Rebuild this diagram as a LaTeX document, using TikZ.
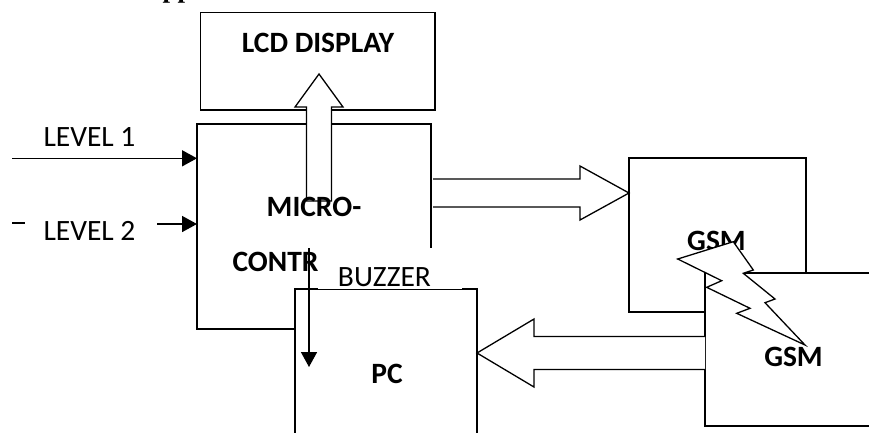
\documentclass[tikz,border=0pt]{standalone}
\usepackage{fontspec}
\setmainfont{Carlito}
\newfontfamily\headfont{Liberation Serif}
\usetikzlibrary{arrows.meta}

\tikzset{
  blk/.style={draw, line width=1.3pt, fill=white, inner sep=0pt, outer sep=0pt},
  btxt/.style={font=\fontsize{29.5}{34}\selectfont\bfseries, inner sep=0pt},
  txt/.style={font=\fontsize{29.5}{34}\selectfont, inner sep=0pt},
  fat/.style={draw, line width=1.3pt, fill=white, line join=miter},
  sigarr/.style={-{Triangle[length=15pt,width=16pt]}, line width=1.6pt},
}

\begin{document}
\begin{tikzpicture}[x=1pt,y=-1pt]
			\useasboundingbox (0,0) rectangle (869,432);
			% heading, cut off at the top
			\node[anchor=base west, inner sep=0pt, font=\headfont\fontsize{27}{30}\selectfont\bfseries] (title) at (143,-3) {Application};
			% blocks
			\node[blk, minimum width=234pt, minimum height=205pt] (micro) at (314,226.5) {};
			\node[blk, minimum width=234.5pt, minimum height=97.3pt] (lcd) at (317.75,61.35) {};
			\node[blk, minimum width=182pt, minimum height=181pt] (pc) at (386,379.5) {};
			\node[fill=white, inner sep=0pt, minimum width=144pt, minimum height=41pt] (buzzbg) at (390,268.5) {};
			\node[blk, minimum width=177pt, minimum height=154pt] (gsma) at (717.5,235) {};
			\node[btxt] (gsmatext) at (716.5,241) {GSM};
			\node[blk, minimum width=215pt, minimum height=153pt] (gsmb) at (812.5,349.5) {};
			% radio link
			\draw[fat] (677.7,259) -- (733.3,241.7) -- (753.3,270) -- (743.3,273.3) -- (775,299) -- (765,302.7)
				-- (805,345) -- (736.7,313.3) -- (750,308.3) -- (706.7,287.3) -- (721.7,280.7) -- cycle;
			% wide arrows
			\draw[fat] (306.5,201) -- (306.5,107) -- (295,107) -- (319,74) -- (343,107) -- (331.5,107) -- (331.5,201) -- cycle;
			\draw[fat] (433,179) -- (580,179) -- (580,166) -- (629,193) -- (580,220) -- (580,207) -- (433,207);
			\draw[fat] (705,336.5) -- (534,336.5) -- (534,319) -- (477,353) -- (534,387) -- (534,369.5) -- (705,369.5);
			% signal lines
			\draw[sigarr] (309,248) -- (309,367);
			\draw[line width=0.8pt] (24,158.3) -- (157,158.3);
			\draw[line width=1.6pt] (12,158.3) -- (24,158.3);
			\draw[sigarr] (157,158.3) -- (micro.west |- 0,158.3);
			\draw[line width=1.6pt] (12,223) -- (25,223);
			\draw[sigarr] (157,224) -- (micro.west |- 0,224);
			% labels
			\node[btxt] (lcdtext) at (318,43) {LCD DISPLAY};
			\node[txt] (lvla) at (89.5,137) {LEVEL 1};
			\node[txt] (lvlb) at (89.5,230.5) {LEVEL 2};
			\node[btxt] (microtext) at (314,206.5) {MICRO-};
			\node[btxt] (contrtext) at (275.5,262) {CONTR};
			\node[txt] (buzzer) at (384.5,277) {BUZZER};
			\node[btxt] (pctext) at (387,374) {PC};
			\node[btxt] (gsmbtext) at (793.5,356.5) {GSM};
		\end{tikzpicture}
\end{document}
